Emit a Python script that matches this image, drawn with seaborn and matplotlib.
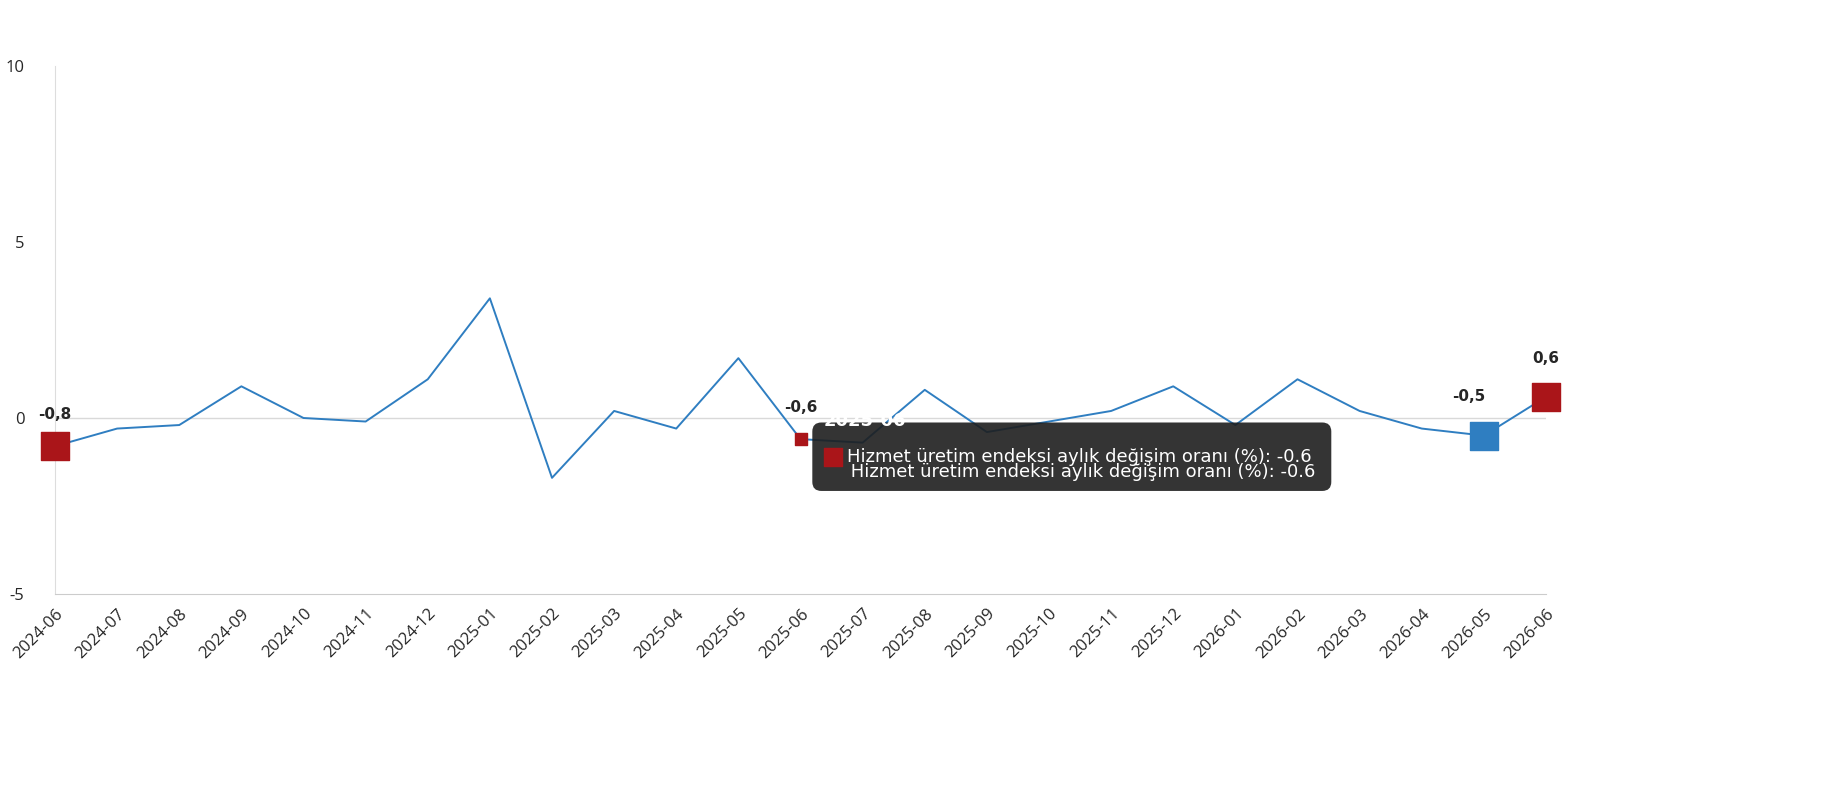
import matplotlib
matplotlib.use("Agg")
import matplotlib.pyplot as plt
import seaborn as sns
import pandas as pd

months = ["2024-06", "2024-07", "2024-08", "2024-09", "2024-10", "2024-11", "2024-12",
          "2025-01", "2025-02", "2025-03", "2025-04", "2025-05", "2025-06", "2025-07",
          "2025-08", "2025-09", "2025-10", "2025-11", "2025-12", "2026-01", "2026-02",
          "2026-03", "2026-04", "2026-05", "2026-06"]
values = [-0.8, -0.3, -0.2, 0.9, 0.0, -0.1, 1.1, 3.4, -1.7, 0.2, -0.3, 1.7, -0.6, -0.7,
          0.8, -0.4, -0.1, 0.2, 0.9, -0.2, 1.1, 0.2, -0.3, -0.5, 0.6]
series_name = "Hizmet üretim endeksi aylık değişim oranı (%)"

df = pd.DataFrame({"month": months, "value": values})
df["x"] = range(len(df))

sns.set_style("white")
plt.rcParams["font.family"] = ["Open Sans", "DejaVu Sans"]
plt.rcParams["axes.unicode_minus"] = False

fig = plt.figure(figsize=(18.3, 8), dpi=100)
ax = fig.add_axes([55 / 1830, 1 - 594 / 800, (1546 - 55) / 1830, (594 - 66) / 800])

ax.axhline(0, color="#d9d9d9", lw=1, zorder=0)
sns.lineplot(data=df, x="x", y="value", color="#2f7ec1", lw=1.4, ax=ax, zorder=2)

red, blue = "#aa1519", "#2f7ec1"
for i, c in [(0, red), (23, blue), (24, red)]:
    ax.scatter(i, values[i], marker="s", s=380, color=c, zorder=4, clip_on=False)
ax.scatter(12, values[12], marker="s", s=70, color=red, zorder=4)

for i, dy in [(0, 0.9), (12, 0.9), (23, 1.1), (24, 1.1)]:
    ax.text(i - (0.25 if i == 23 else 0), values[i] + dy, f"{values[i]:.1f}".replace(".", ","),
            ha="center", va="center", fontsize=11, fontweight="bold", family="DejaVu Sans")

# tooltip
ax.text(12.35, -1.1, f"\n     {series_name}: -0.6 ", color="white", fontsize=13,
        va="center", ha="left", zorder=5, family="DejaVu Sans", linespacing=1.9,
        bbox=dict(boxstyle="round,pad=0.55,rounding_size=0.5", fc="#1e1e1e",
                  ec="none", alpha=0.9))
ax.text(12.38, -0.08, "2025-06", color="white", fontsize=13, fontweight="bold",
        va="center", zorder=6, family="DejaVu Sans")
ax.scatter(12.52, -1.12, marker="s", s=150, color=red, zorder=6)
ax.text(12.75, -1.12, f"{series_name}: -0.6", color="white", fontsize=13,
        va="center", zorder=6, family="DejaVu Sans")

ax.set_xlim(0, 24)
ax.set_ylim(-5, 10)
ax.set_yticks([-5, 0, 5, 10])
ax.set_xticks(df["x"])
ax.set_xticklabels(months, rotation=45, ha="right", rotation_mode="anchor", fontsize=12)
ax.tick_params(axis="y", labelsize=12, length=0, pad=22)
ax.tick_params(axis="x", length=5, color="#cccccc")
ax.set_xlabel("")
ax.set_ylabel("")
for s in ["top", "right"]:
    ax.spines[s].set_visible(False)
ax.spines["left"].set_color("#dddddd")
ax.spines["bottom"].set_color("#cccccc")

fig.savefig("out.png", dpi=100)
